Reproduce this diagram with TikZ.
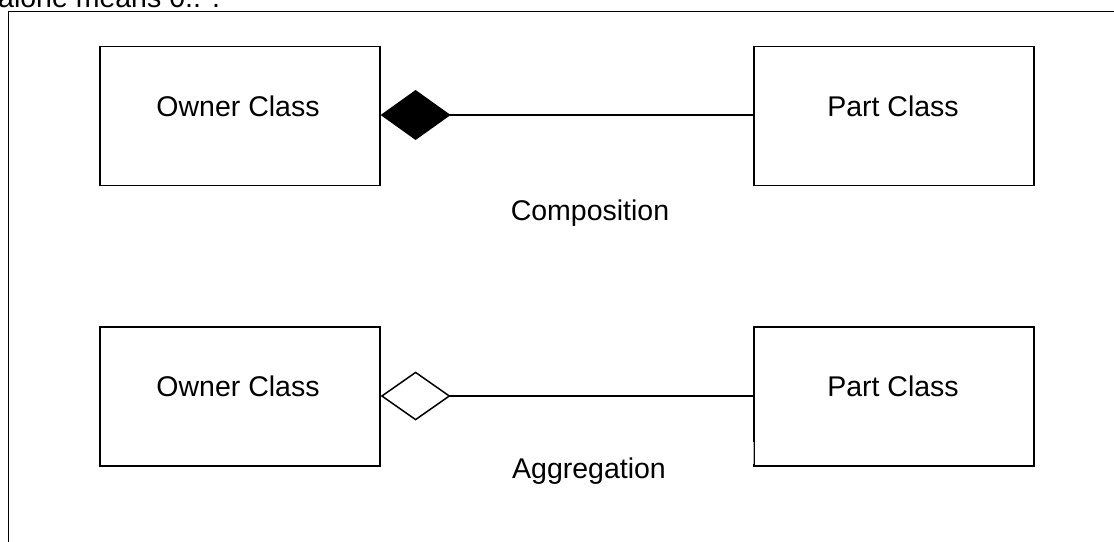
\documentclass[tikz,border=0pt]{standalone}
\usepackage{fontspec}
\setmainfont{Liberation Sans}
\usetikzlibrary{arrows.meta}
\begin{document}
\begin{tikzpicture}[x=1pt,y=-1pt,
  box/.style={draw=black, line width=1.6pt, minimum width=280pt, minimum height=139pt, inner sep=0pt, anchor=north west},
  lbl/.style={font=\fontsize{28.5}{34}\selectfont, anchor=base, inner sep=0pt},
  conn/.style={draw=black, line width=1.5pt},
  frame/.style={draw=black, line width=1.6pt}]
\useasboundingbox (0,0) rectangle (1114,541);
\clip (0,0) rectangle (1114,541);
\fill[white] (0,0) rectangle (1114,541);
% top cut-off text (cut off in the reference too)
\node[lbl, anchor=base west] (note) at (-2,7) {alone means 0..*.};
% frame
\draw[frame] (8.5,11.5) rectangle (1140,570);
% composition
\node[box] (own1) at (99,45.5) {};
\node[box] (part1) at (753,45.5) {};
\node[lbl] (own1t) at (238,116) {Owner Class};
\node[lbl] (part1t) at (893,116) {Part Class};
\draw[conn, -{Diamond[length=70pt,width=50pt,fill=black]}] (part1.west|-0,115) -- (own1.east|-0,115);
\node[lbl] (comp) at (590,220) {Composition};
% aggregation
\node[box] (own2) at (99,326) {};
\node[box] (part2) at (753,326) {};
\node[lbl] (own2t) at (238,396.5) {Owner Class};
\node[lbl] (part2t) at (893,396.5) {Part Class};
\draw[conn, -{Diamond[open,length=70pt,width=49pt]}] (part2.west|-0,396) -- (own2.east|-0,396);
\node[lbl] (aggr) at (589,478) {Aggregation};
% light segment at lower left edge of part box
\draw[white, line width=1.7pt] (753,442) -- (753,464);
\draw[black!30, line width=0.8pt] (753.4,442) -- (753.4,464);
\end{tikzpicture}
\end{document}
